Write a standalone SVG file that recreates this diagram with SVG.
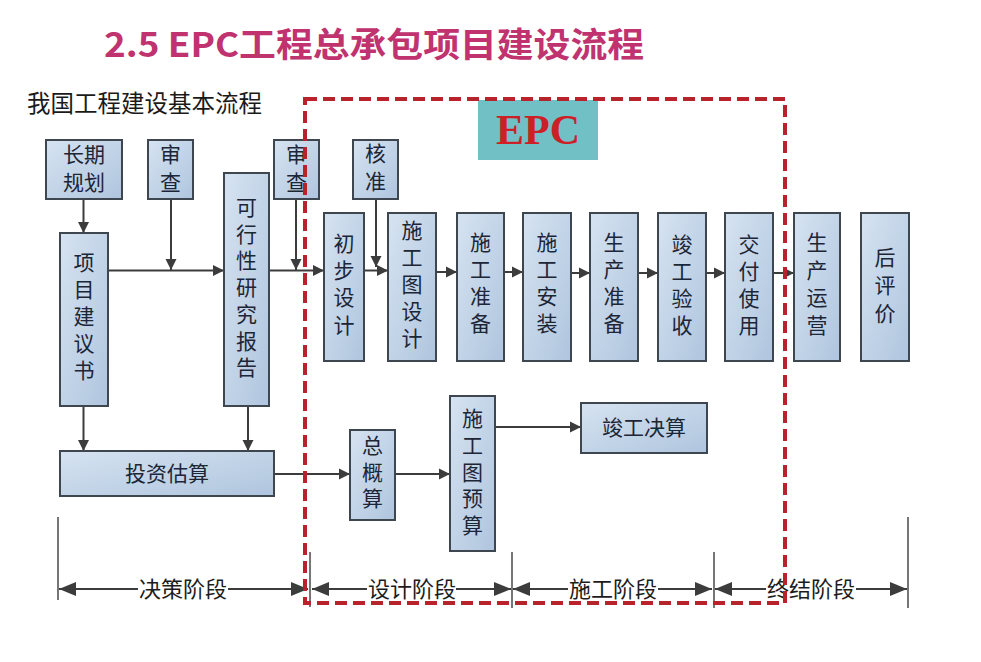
<svg xmlns="http://www.w3.org/2000/svg" width="981" height="662" viewBox="0 0 981 662">
<defs>
<linearGradient id="boxfill" x1="0" y1="0" x2="1" y2="1">
<stop offset="0" stop-color="#D6E3F1"/>
<stop offset="1" stop-color="#AFC5DE"/>
</linearGradient>
<marker id="ah" markerUnits="userSpaceOnUse" markerWidth="12" markerHeight="12" refX="11" refY="6" orient="auto">
<path d="M0,0.5 L11,6 L0,11.5 z" fill="#3C3C3C"/>
</marker>
<marker id="sh" markerUnits="userSpaceOnUse" markerWidth="18" markerHeight="16" refX="17" refY="8" orient="auto">
<path d="M0,1 L17,8 L0,15 z" fill="#3C3C3C"/>
</marker>
</defs>
<style>
.box{fill:url(#boxfill);stroke:#3E4650;stroke-width:2}
.t{font-family:"Noto Sans CJK SC","Noto Sans",sans-serif;font-size:21px;fill:#1C2636;text-anchor:middle}
.v{font-family:"Noto Sans CJK SC","Noto Sans",sans-serif;font-size:21px;fill:#1C2636;text-anchor:middle;writing-mode:vertical-rl;letter-spacing:6px}
.st{font-family:"Noto Sans CJK SC","Noto Sans",sans-serif;font-size:22px;fill:#1C1C1C;text-anchor:middle}
.c{stroke:#3C3C3C;stroke-width:2;fill:none;marker-end:url(#ah)}
.s{stroke:#3C3C3C;stroke-width:2.2;fill:none;marker-end:url(#sh)}
.tick{stroke:#3C3C3C;stroke-width:1.4}
</style>
<rect width="981" height="662" fill="#FFFFFF"/>
<text x="104" y="57" font-family="'Noto Sans CJK SC','Noto Sans',sans-serif" font-weight="bold" font-size="34" fill="#C0336F" textLength="540" lengthAdjust="spacingAndGlyphs">2.5 EPC工程总承包项目建设流程</text>
<text x="27" y="112" font-family="'Noto Sans CJK SC',sans-serif" font-size="23.5" fill="#1A1A1A">我国工程建设基本流程</text>

<g id="connectors">
<line class="c" x1="83.5" y1="199" x2="83.5" y2="233"/>
<line class="c" x1="108" y1="270.5" x2="224" y2="270.5"/>
<line class="c" x1="171" y1="199" x2="171" y2="270"/>
<line class="c" x1="269" y1="270.5" x2="324" y2="270.5"/>
<line class="c" x1="296" y1="199" x2="296" y2="270"/>
<line class="c" x1="376" y1="199" x2="376" y2="267"/>
<line class="c" x1="364" y1="270.5" x2="388" y2="270.5"/>
<line class="c" x1="436" y1="272" x2="457" y2="272"/>
<line class="c" x1="504" y1="272" x2="523" y2="272"/>
<line class="c" x1="571" y1="273" x2="590" y2="273"/>
<line class="c" x1="638" y1="273" x2="658" y2="273"/>
<line class="c" x1="706" y1="273" x2="725" y2="273"/>
<line class="c" x1="773" y1="273" x2="794" y2="273"/>
<line class="c" x1="83.5" y1="406" x2="83.5" y2="451"/>
<line class="c" x1="248" y1="406" x2="248" y2="451"/>
<line class="c" x1="274" y1="474" x2="350" y2="474"/>
<line class="c" x1="395" y1="474" x2="450" y2="474"/>
<line class="c" x1="495" y1="427" x2="581" y2="427"/>
</g>

<g id="n-changqi"><rect class="box" x="46" y="140" width="76" height="59"/><text class="t" x="84" y="162">长期</text><text class="t" x="84" y="190">规划</text></g>
<g id="n-shencha1"><rect class="box" x="148" y="140" width="45" height="59"/><text class="v" x="170.5" y="171.5" style="letter-spacing:7px">审查</text></g>
<g id="n-shencha2"><rect class="box" x="274" y="140" width="45" height="59"/><text class="v" x="296.5" y="171.5" style="letter-spacing:7px">审查</text></g>
<g id="n-hezhun"><rect class="box" x="353" y="140" width="45" height="59"/><text class="v" x="375.5" y="171" style="letter-spacing:7px">核准</text></g>

<g id="n-xiangmu"><rect class="box" x="60" y="233" width="48" height="173"/><text class="v" x="84" y="319.5">项目建议书</text></g>
<g id="n-kexing"><rect class="box" x="224" y="173" width="45" height="233"/><text class="v" x="246.5" y="290" style="letter-spacing:5.7px">可行性研究报告</text></g>

<g id="n-chubu"><rect class="box" x="324" y="213" width="40" height="148"/><text class="v" x="344" y="287" style="letter-spacing:6.3px">初步设计</text></g>
<g id="n-sgtsj"><rect class="box" x="388" y="213" width="48" height="148"/><text class="v" x="412" y="287">施工图设计</text></g>
<g id="n-sgzb"><rect class="box" x="457" y="213" width="47" height="148"/><text class="v" x="480.5" y="286">施工准备</text></g>
<g id="n-sgaz"><rect class="box" x="523" y="213" width="48" height="148"/><text class="v" x="547" y="286">施工安装</text></g>
<g id="n-sczb"><rect class="box" x="590" y="213" width="48" height="148"/><text class="v" x="614" y="286">生产准备</text></g>
<g id="n-jgys"><rect class="box" x="658" y="213" width="48" height="148"/><text class="v" x="682" y="288">竣工验收</text></g>
<g id="n-jfsy"><rect class="box" x="725" y="213" width="48" height="148"/><text class="v" x="749" y="288">交付使用</text></g>
<g id="n-scyy"><rect class="box" x="794" y="213" width="46" height="148"/><text class="v" x="817" y="287" style="letter-spacing:6.7px">生产运营</text></g>
<g id="n-hpj"><rect class="box" x="861" y="213" width="48" height="148"/><text class="v" x="885" y="288.5" style="letter-spacing:7px">后评价</text></g>

<g id="n-tzgs"><rect class="box" x="60" y="451" width="214" height="45"/><text class="t" x="167" y="481">投资估算</text></g>
<g id="n-zgs"><rect class="box" x="350" y="430" width="45" height="90"/><text class="v" x="372.5" y="474.5" style="letter-spacing:5.5px">总概算</text></g>
<g id="n-sgtys"><rect class="box" x="450" y="396" width="45" height="155"/><text class="v" x="472.5" y="474.5" style="letter-spacing:5.75px">施工图预算</text></g>
<g id="n-jgjs"><rect class="box" x="581" y="403" width="126" height="50"/><text class="t" x="644" y="435">竣工决算</text></g>

<g id="stages">
<line class="tick" x1="58" y1="517" x2="58" y2="600"/>
<line class="tick" x1="310" y1="552" x2="310" y2="607"/>
<line class="tick" x1="512" y1="552" x2="512" y2="608"/>
<line class="tick" x1="714" y1="552" x2="714" y2="608"/>
<line class="tick" x1="908" y1="517" x2="908" y2="608"/>
<line class="s" x1="138" y1="589" x2="59" y2="589"/>
<line class="s" x1="228" y1="589" x2="308" y2="589"/>
<text class="st" x="183" y="597">决策阶段</text>
<line class="s" x1="367" y1="589" x2="312" y2="589"/>
<line class="s" x1="456" y1="589" x2="511" y2="589"/>
<text class="st" x="412" y="597">设计阶段</text>
<line class="s" x1="568" y1="589" x2="513" y2="589"/>
<line class="s" x1="658" y1="589" x2="712" y2="589"/>
<text class="st" x="613" y="597">施工阶段</text>
<line class="s" x1="766" y1="589" x2="715" y2="589"/>
<line class="s" x1="856" y1="589" x2="907" y2="589"/>
<text class="st" x="811" y="597">终结阶段</text>
</g>

<g id="epc">
<rect x="478" y="100" width="120" height="60" fill="#70C0C6"/>
<text x="538" y="144" font-family="'Liberation Serif',serif" font-weight="bold" font-size="42" fill="#CC1F26" text-anchor="middle">EPC</text>
<rect x="305" y="99" width="480" height="504" fill="none" stroke="#B8232B" stroke-width="4" stroke-dasharray="12 6"/>
</g>
</svg>
